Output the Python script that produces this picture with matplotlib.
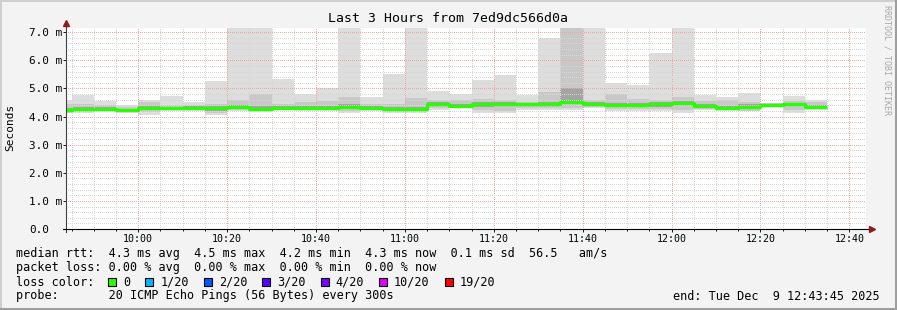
import matplotlib
matplotlib.use('Agg')
import numpy as np
import matplotlib.pyplot as plt
from matplotlib.ticker import MultipleLocator, FuncFormatter
from matplotlib.patches import Rectangle
from matplotlib.lines import Line2D

plt.rcParams['font.family'] = ['DejaVu Sans Mono']

# 5 minute bins, first one starts 09:40 (partly cut off by the 3h window)
first_bin = '09:40'
bin_minutes = 5
window_start = '09:43:45'
window_end = '12:43:45'

# values in ms
median = [4.25, 4.26, 4.26, 4.22, 4.29, 4.29, 4.32, 4.30, 4.34, 4.27, 4.32, 4.32,
          4.29, 4.35, 4.29, 4.27, 4.26, 4.43, 4.37, 4.43, 4.43, 4.43, 4.45, 4.50,
          4.45, 4.42, 4.41, 4.43, 4.48, 4.39, 4.32, 4.35, 4.42, 4.43, 4.33]
ping_min = [4.11, 4.11, 4.23, 4.13, 4.05, 4.19, 4.19, 4.05, 4.20, 4.17, 4.23, 4.20,
            4.19, 4.13, 4.20, 4.13, 4.13, 4.23, 4.29, 4.11, 4.11, 4.23, 4.25, 4.23,
            4.29, 4.20, 4.20, 4.20, 4.13, 4.23, 4.19, 4.19, 4.33, 4.13, 4.23]
ping_max = [4.58, 4.76, 4.56, 4.40, 4.60, 4.73, 4.52, 5.26, 7.50, 7.50, 5.33, 4.80,
            5.01, 7.50, 4.68, 5.51, 7.50, 4.90, 4.80, 5.30, 5.47, 4.76, 6.80, 7.50,
            7.50, 5.20, 5.12, 6.27, 7.50, 4.76, 4.68, 4.84, 4.49, 4.73, 4.58]
mid_lo = [4.14, 4.15, 4.20, 4.16, 4.16, 4.22, 4.22, 4.14, 4.24, 4.20, 4.25, 4.23,
          4.22, 4.20, 4.23, 4.17, 4.17, 4.30, 4.32, 4.22, 4.20, 4.30, 4.32, 4.30,
          4.34, 4.27, 4.27, 4.28, 4.22, 4.27, 4.22, 4.21, 4.37, 4.24, 4.27]
mid_hi = [4.45, 4.45, 4.40, 4.35, 4.50, 4.42, 4.42, 4.45, 4.60, 4.80, 4.45, 4.50,
          4.55, 4.70, 4.45, 4.45, 4.65, 4.58, 4.58, 4.62, 4.60, 4.52, 4.87, 7.50,
          4.58, 4.80, 4.62, 4.58, 4.68, 4.54, 4.58, 4.52, 4.47, 4.54, 4.52]
core_lo = [4.18, 4.19, 4.19, 4.16, 4.22, 4.23, 4.26, 4.21, 4.27, 4.21, 4.26, 4.24,
           4.23, 4.28, 4.23, 4.20, 4.20, 4.36, 4.31, 4.35, 4.36, 4.37, 4.39, 4.43,
           4.39, 4.35, 4.34, 4.35, 4.40, 4.32, 4.25, 4.27, 4.36, 4.36, 4.27]
core_hi = [4.32, 4.34, 4.33, 4.27, 4.36, 4.35, 4.38, 4.37, 4.41, 4.36, 4.39, 4.39,
           4.37, 4.43, 4.36, 4.34, 4.34, 4.50, 4.43, 4.50, 4.50, 4.49, 4.53, 5.02,
           4.51, 4.48, 4.48, 4.50, 4.55, 4.45, 4.38, 4.43, 4.46, 4.49, 4.41]

rtt_stats = [4.3, 4.5, 4.2, 4.3]      # avg max min now
rtt_sd = 0.1
am_s = 56.5
loss_stats = [0.00, 0.00, 0.00, 0.00]
loss_labels = ['0', '1/20', '2/20', '3/20', '4/20', '10/20', '19/20']
loss_colors = ['#26ff00', '#00b8ff', '#0059ff', '#5e00ff', '#7e00ff', '#dd00ff', '#ff0000']
host = '7ed9dc566d0a'
end_text = 'end: Tue Dec  9 12:43:45 2025'


def to_min(s):
    parts = [float(p) for p in s.split(':')]
    return parts[0] * 60 + parts[1] + (parts[2] / 60 if len(parts) > 2 else 0)


W, H = 897, 310
fig = plt.figure(figsize=(W / 100, H / 100), dpi=100, facecolor='#f3f3f3')
ax = fig.add_axes([66 / W, (H - 229) / H, 800 / W, 201 / H])
ax.set_facecolor('white')

x_edges = to_min(first_bin) + bin_minutes * np.arange(len(median) + 1)


def ext(v):
    return np.append(v, v[-1])


# smoke
ax.fill_between(x_edges, ext(ping_min), ext(ping_max), step='post', color='#dddddd', lw=0, zorder=1)
ax.fill_between(x_edges, ext(mid_lo), ext(mid_hi), step='post', color='#c8c8c8', lw=0, zorder=1.1)
ax.fill_between(x_edges, ext(core_lo), ext(core_hi), step='post', color='#a4a4a4', lw=0, zorder=1.2)
# median rtt, coloured by loss (all 0 here)
ax.step(x_edges, ext(median), where='post', color=loss_colors[0], lw=2.3, zorder=3,
        solid_capstyle='butt')

ax.set_xlim(to_min(window_start), to_min(window_end))
ax.set_ylim(0, 7.15)

ax.xaxis.set_major_locator(MultipleLocator(20))
ax.xaxis.set_minor_locator(MultipleLocator(5))
ax.yaxis.set_major_locator(MultipleLocator(1))
ax.yaxis.set_minor_locator(MultipleLocator(0.2))
ax.xaxis.set_major_formatter(FuncFormatter(lambda v, p: '%02d:%02d' % (int(round(v)) // 60, int(round(v)) % 60)))
ax.yaxis.set_major_formatter(FuncFormatter(lambda v, p: '0.0' if v == 0 else '%.1f m' % v))

ax.set_axisbelow(False)
ax.grid(which='minor', color='#d6d6d6', linestyle=(0, (1, 2)), lw=0.72, antialiased=False)
ax.grid(which='major', color='#f4a6a6', linestyle=(0, (1, 2)), lw=0.72, antialiased=False)

for sp in ax.spines.values():
    sp.set_visible(False)

ax.tick_params(axis='x', which='major', length=2.2, width=0.72, direction='out', pad=1.5,
               labelsize=7.2, color='#202020')
ax.tick_params(axis='x', which='minor', length=1.5, width=0.72, direction='out', color='#202020')
ax.tick_params(axis='y', which='major', length=2.2, width=0.72, direction='out', pad=24.5,
               labelsize=7.9, color='#202020')
ax.tick_params(axis='y', which='minor', length=0)
for lab in ax.get_yticklabels():
    lab.set_horizontalalignment('left')

# axes with arrows
ax.add_line(Line2D([0, 0], [-0.015, 1.015], transform=ax.transAxes, color='#404040', lw=0.8, clip_on=False, zorder=4))
ax.add_line(Line2D([-0.004, 1.005], [0, 0], transform=ax.transAxes, color='black', lw=0.8, clip_on=False, zorder=4))
ax.plot([0], [1.025], marker='^', ms=4, color='#8c1c1c', transform=ax.transAxes, clip_on=False, zorder=5)
ax.plot([1.007], [0], marker='>', ms=4, color='#8c1c1c', transform=ax.transAxes, clip_on=False, zorder=5)


def px(x, y):
    return x / W, 1 - y / H


fig.text(*px(448, 19), 'Last 3 Hours from ' + host, ha='center', va='center', size=9.5)
fig.text(*px(10, 127.5), 'Seconds', ha='center', va='center', rotation=90, size=8)
fig.text(*px(887, 5), 'RRDTOOL / TOBI OETIKER', ha='center', va='top', rotation=270,
         size=6, color='#a8a8a8')

line1 = 'median rtt:  %.1f ms avg  %.1f ms max  %.1f ms min  %.1f ms now  %.1f ms sd  %.1f   am/s' % (
    rtt_stats[0], rtt_stats[1], rtt_stats[2], rtt_stats[3], rtt_sd, am_s)
line2 = 'packet loss: %.2f %% avg  %.2f %% max  %.2f %% min  %.2f %% now' % tuple(loss_stats)
fig.text(*px(16, 254), line1, ha='left', va='center', size=8.5)
fig.text(*px(16, 268), line2, ha='left', va='center', size=8.5)
fig.text(*px(16, 282), 'loss color:', ha='left', va='center', size=8.5)
fig.text(*px(16, 296), 'probe:       20 ICMP Echo Pings (56 Bytes) every 300s', ha='left', va='center', size=8.5)
fig.text(*px(880, 296), end_text, ha='right', va='center', size=8.5)

cw = 7.1
sx = 108.3
for lab, col in zip(loss_labels, loss_colors):
    fig.add_artist(Rectangle(px(sx, 286), 8 / W, 8 / H, transform=fig.transFigure,
                             facecolor=col, edgecolor='black', lw=0.8))
    fig.text(*px(sx + 15, 282), lab, ha='left', va='center', size=8.5)
    sx += 15 + len(lab) * cw + 15

# rrdtool style frame
fig.add_artist(Line2D([0, 1], [1, 1], transform=fig.transFigure, color='#cfcfcf', lw=2.9))
fig.add_artist(Line2D([0, 0], [0, 1], transform=fig.transFigure, color='#cfcfcf', lw=2.9))
fig.add_artist(Line2D([0, 1], [0, 0], transform=fig.transFigure, color='#9e9e9e', lw=2.9))
fig.add_artist(Line2D([1, 1], [0, 1], transform=fig.transFigure, color='#9e9e9e', lw=2.9))

fig.savefig('out.png', dpi=100, facecolor=fig.get_facecolor())
